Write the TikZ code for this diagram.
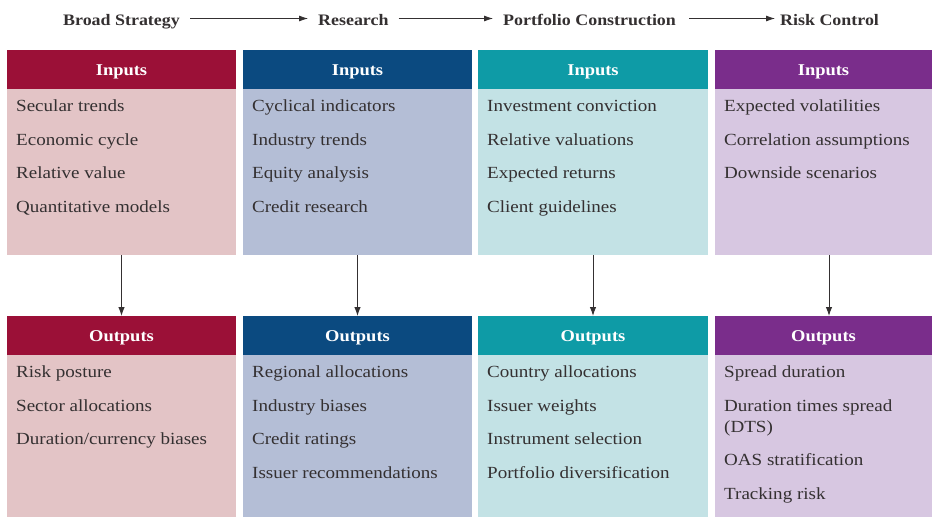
\documentclass[tikz,border=0pt]{standalone}
\usepackage{fontspec}
\setmainfont[FakeStretch=1.12]{Liberation Serif}
\usetikzlibrary{arrows.meta}
\definecolor{redH}{HTML}{9B1037}
\definecolor{redB}{HTML}{E3C4C6}
\definecolor{navyH}{HTML}{0B4A80}
\definecolor{navyB}{HTML}{B4BED6}
\definecolor{tealH}{HTML}{0E9BA6}
\definecolor{tealB}{HTML}{C3E2E5}
\definecolor{plumH}{HTML}{7A2D8B}
\definecolor{plumB}{HTML}{D7C7E1}
\definecolor{ink}{HTML}{343031}
% header label lowered slightly inside its band, keeping its nominal size
\newcommand{\hdrtext}[1]{\raisebox{-2.5pt}[\height][\depth]{#1}}
\tikzset{
  hdr/.style={anchor=north west, inner sep=0pt, outer sep=0pt, text=white,
    font=\fontsize{16.5}{18}\selectfont\bfseries},
  bodybox/.style={anchor=north west, inner sep=0pt, outer sep=0pt},
  item/.style={anchor=base west, inner sep=0pt, text=ink,
    font=\fontsize{17}{18}\selectfont},
  stage/.style={anchor=base west, inner sep=0pt, text=ink,
    font=\fontsize{16}{18}\selectfont\bfseries},
  flow/.style={-{Latex[length=9pt,width=6.5pt]}, line width=1pt, draw=ink},
  topflow/.style={-{Latex[length=9pt,width=6pt]}, line width=0.8pt, draw=ink},
}
\begin{document}
\begin{tikzpicture}[x=1pt,y=-1pt]
\useasboundingbox (0,0) rectangle (932,517);
\fill[white] (0,0) rectangle (932,517);

% stage titles along the top
\node[stage] (s1) at (63,25) {Broad Strategy};
\node[stage] (s2) at (318,25) {Research};
\node[stage] (s3) at (503,25) {Portfolio Construction};
\node[stage] (s4) at (780,25) {Risk Control};
\draw[topflow] ([shift={(10pt,6.5pt)}]s1.base east) -- ([shift={(-10pt,6.5pt)}]s2.base west);
\draw[topflow] ([shift={(10pt,6.5pt)}]s2.base east) -- ([shift={(-10pt,6.5pt)}]s3.base west);
\draw[topflow] ([shift={(13pt,6.5pt)}]s3.base east) -- ([shift={(-5pt,6.5pt)}]s4.base west);

% column 1
\node[bodybox, fill=redB, minimum width=229pt, minimum height=166pt] (ib1) at (7,89) {};
\node[hdr, fill=redH, minimum width=229pt, minimum height=39pt] (ih1) at (7,50) {\hdrtext{Inputs}};
\node[bodybox, fill=redB, minimum width=229pt, minimum height=162pt] (ob1) at (7,355) {};
\node[hdr, fill=redH, minimum width=229pt, minimum height=39pt] (oh1) at (7,316) {\hdrtext{Outputs}};
\node[item] (a1) at (16,111) {Secular trends};
\node[item] (a2) at (16,145) {Economic cycle};
\node[item] (a3) at (16,178) {Relative value};
\node[item] (a4) at (16,212) {Quantitative models};
\node[item] (b1) at (16,377) {Risk posture};
\node[item] (b2) at (16,411) {Sector allocations};
\node[item] (b3) at (16,444) {Duration/currency biases};

% column 2
\node[bodybox, fill=navyB, minimum width=229pt, minimum height=166pt] (ib2) at (243,89) {};
\node[hdr, fill=navyH, minimum width=229pt, minimum height=39pt] (ih2) at (243,50) {\hdrtext{Inputs}};
\node[bodybox, fill=navyB, minimum width=229pt, minimum height=162pt] (ob2) at (243,355) {};
\node[hdr, fill=navyH, minimum width=229pt, minimum height=39pt] (oh2) at (243,316) {\hdrtext{Outputs}};
\node[item] (c1) at (252,111) {Cyclical indicators};
\node[item] (c2) at (252,145) {Industry trends};
\node[item] (c3) at (252,178) {Equity analysis};
\node[item] (c4) at (252,212) {Credit research};
\node[item] (d1) at (252,377) {Regional allocations};
\node[item] (d2) at (252,411) {Industry biases};
\node[item] (d3) at (252,444) {Credit ratings};
\node[item] (d4) at (252,478) {Issuer recommendations};

% column 3
\node[bodybox, fill=tealB, minimum width=230pt, minimum height=166pt] (ib3) at (478,89) {};
\node[hdr, fill=tealH, minimum width=230pt, minimum height=39pt] (ih3) at (478,50) {\hdrtext{Inputs}};
\node[bodybox, fill=tealB, minimum width=230pt, minimum height=162pt] (ob3) at (478,355) {};
\node[hdr, fill=tealH, minimum width=230pt, minimum height=39pt] (oh3) at (478,316) {\hdrtext{Outputs}};
\node[item] (e1) at (487,111) {Investment conviction};
\node[item] (e2) at (487,145) {Relative valuations};
\node[item] (e3) at (487,178) {Expected returns};
\node[item] (e4) at (487,212) {Client guidelines};
\node[item] (f1) at (487,377) {Country allocations};
\node[item] (f2) at (487,411) {Issuer weights};
\node[item] (f3) at (487,444) {Instrument selection};
\node[item] (f4) at (487,478) {Portfolio diversification};

% column 4
\node[bodybox, fill=plumB, minimum width=217pt, minimum height=166pt] (ib4) at (715,89) {};
\node[hdr, fill=plumH, minimum width=217pt, minimum height=39pt] (ih4) at (715,50) {\hdrtext{Inputs}};
\node[bodybox, fill=plumB, minimum width=217pt, minimum height=162pt] (ob4) at (715,355) {};
\node[hdr, fill=plumH, minimum width=217pt, minimum height=39pt] (oh4) at (715,316) {\hdrtext{Outputs}};
\node[item] (g1) at (724,111) {Expected volatilities};
\node[item] (g2) at (724,145) {Correlation assumptions};
\node[item] (g3) at (724,178) {Downside scenarios};
\node[item] (h1) at (724,377) {Spread duration};
\node[item] (h2) at (724,411) {Duration times spread};
\node[item] (h3) at (724,432) {(DTS)};
\node[item] (h4) at (724,465) {OAS stratification};
\node[item] (h5) at (724,499) {Tracking risk};

% inputs feed outputs
\draw[flow] (ib1.south) -- (oh1.north);
\draw[flow] (ib2.south) -- (oh2.north);
\draw[flow] (ib3.south) -- (oh3.north);
\draw[flow] ([xshift=5.5pt]ib4.south) -- ([xshift=5.5pt]oh4.north);
\end{tikzpicture}
\end{document}
